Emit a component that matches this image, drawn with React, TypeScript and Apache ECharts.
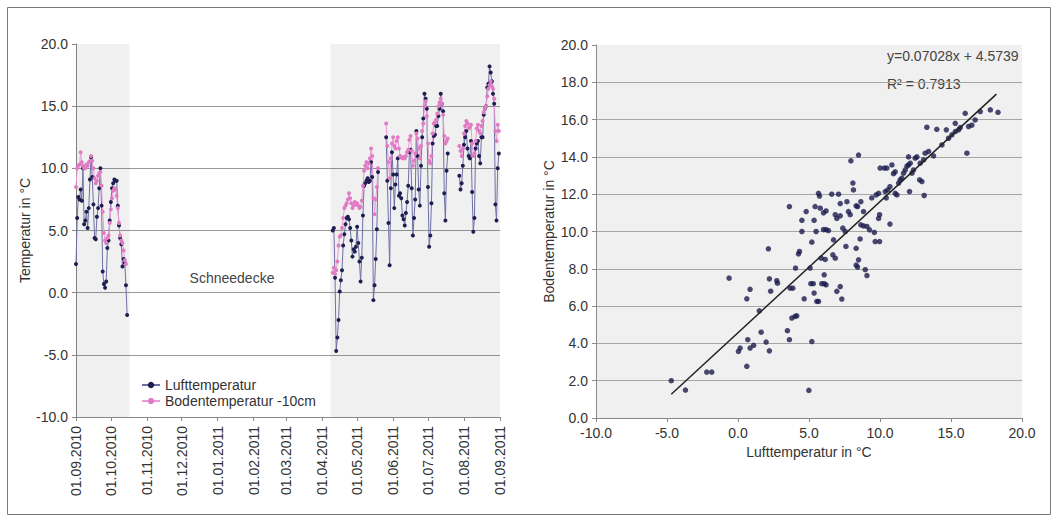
import React, { useEffect, useRef } from "react";
import * as echarts from "echarts";

// ---- time series (daily values) ----
const axisStart = [2010, 8, 1]; // 01.09.2010
const axisEnd = [2011, 8, 1]; // 01.09.2011
const autumnStart = "01.09.2010";
const luftAutumn = [2.3, 6.0, 7.7, 7.5, 8.3, 7.4, 10.0, 5.5, 5.8, 6.5, 5.2, 6.8, 9.1, 10.9, 9.3, 7.1, 4.4, 4.3, 6.1, 6.8, 8.4, 10.0, 7.0, 1.7, 0.7, 0.4, 0.9, 3.6, 4.2, 5.8, 7.3, 8.4, 8.8, 9.1, 9.0, 9.0, 7.0, 5.4, 4.4, 3.9, 2.1, 2.7, 2.4, 0.6, -1.8];
const bodenAutumn = [8.5, 10.0, 10.2, 10.3, 11.3, 10.5, 10.2, 10.0, 10.0, 10.3, 10.2, 10.5, 10.6, 11.0, 10.6, 10.0, 9.2, 8.8, 9.0, 9.4, 9.6, 9.7, 8.6, 6.5, 4.8, 4.2, 4.0, 4.4, 4.6, 5.6, 6.7, 7.6, 8.2, 8.4, 8.3, 7.8, 6.8, 5.6, 4.6, 4.2, 4.0, 3.4, 2.6, 2.3, null];

const springStart = "10.04.2011";
const N6 = [null, null, null, null, null, null];
const N9 = [null, null, null, null, null, null, null, null, null];
const luftSpring = [
  5.0, 5.2, 1.2, -4.7, -3.6, -2.2, 0.1, 1.0, 1.8, 3.8, 4.7, 5.5, 6.0, 6.1, 5.9, 5.2, 4.2, 2.9, 3.5, 3.3, 3.7, 5.3, 4.0, 2.5, 0.9, 2.8, 6.2, 8.6, 8.8, 9.0, 9.2, 8.9, 9.0, 10.5, 9.3, -0.6, 0.6, 2.7, 5.1, 9.7,
  ...N6,
  12.5, 9.0, 5.6, 2.2, 8.4, 11.3, 9.5, 6.8, 8.7, 9.5, 10.8, 7.8, 8.0, 7.6, 6.2, 5.9, 5.4, 6.4, 7.3, 8.6, 11.3, 11.5, 8.4, 4.6, 6.0, 7.5, 13.0, 11.0, 8.3, 7.0, 10.2, 12.5, 14.0, 16.0, 15.6, 14.8, 8.5, 3.7, 4.6, 7.2, 12.0, 12.6, 12.7, 13.4, 13.4, 14.2, 14.8, 16.0, 15.2, 14.6, 8.0, 5.8, 9.8, 11.2,
  ...N9,
  9.4, 8.3, 8.8, 10.2, 11.9, 12.5, 13.0, 11.6, 11.0, 10.8, 12.2, 8.1, 4.9, 6.0, 11.6, 12.0, 12.2, 11.0, 10.4, 12.5, 12.5, 14.3, 14.8, 15.0, 16.5, 16.8, 18.2, 17.7, 17.0, 16.0, 15.2, 7.1, 5.8, 10.0, 11.2,
];
const bodenSpring = [
  1.6, 2.0, 1.5, 1.8, 2.5, 3.8, 4.5, 4.6, 5.2, 6.0, 6.8, 7.0, 7.2, 7.5, 8.0, 7.6, 7.2, 6.8, 7.0, 7.3, 7.1, 7.2, 7.0, 6.8, 6.9, 7.4, 8.6, 9.8, 10.2, 10.5, 10.0, 10.4, 10.8, 11.6, 11.0, 7.6, 6.3, 7.5, 8.5, 10.0,
  ...N6,
  13.6, 11.8, 10.5, 9.2, 10.8, 12.0, 12.5, 11.8, 11.6, 12.2, 12.5, 11.6, 11.0, 10.9, 10.8, 10.9, 10.8, 11.0, 11.3, 11.5, 12.3, 12.6, 11.4, 10.2, 10.6, 11.2, 12.8, 12.4, 11.6, 10.8, 11.8, 13.0, 13.6, 15.0, 15.4, 14.2, 12.0, 10.6, 10.4, 11.0, 12.8, 13.6, 13.7, 13.9, 14.4, 15.0, 15.3, 15.6, 15.2, 14.3, 12.6, 12.0, 12.2, 12.4,
  ...N9,
  11.8, 11.4, 11.0, 11.6, 12.8, 13.4, 13.8, 13.6, 13.2, 13.3, 13.5, 12.0, 11.0, 11.2, 12.2, 13.2, 13.5, 13.0, 12.8, 13.4, 13.8, 14.5, 14.8, 15.0, 15.8, 16.4, 16.7, 17.0, 16.6, 16.4, 15.6, 13.0, 12.2, 13.5, 13.0,
];
const bands = [
  ["01.09.2010", "17.10.2010"],
  ["08.04.2011", "01.09.2011"],
];

// ---- scatter: Lufttemperatur vs Bodentemperatur ----
const scatterLuft = [-4.7, -3.7, -2.2, -1.85, -0.63, 0.03, 0.15, 0.62, 0.62, 0.69, 0.85, 0.85, 1.1, 1.5, 1.63, 1.98, 2.14, 2.21, 2.21, 2.3, 2.73, 2.78, 3.62, 3.48, 3.62, 3.67, 3.86, 3.79, 4.02, 4.14, 4.05, 4.26, 4.33, 4.5, 4.5, 4.66, 4.8, 4.99, 5.08, 5.13, 5.2, 5.2, 5.3, 5.36, 5.43, 5.36, 5.55, 5.67, 5.5, 5.67, 5.74, 5.79, 5.86, 5.9, 6.07, 6.2, 6.02, 6.2, 6.37, 6.02, 6.2, 6.07, 6.14, 6.68, 6.85, 6.73, 6.6, 7.08, 6.85, 6.96, 7.2, 6.96, 7.2, 7.31, 7.2, 7.38, 7.55, 7.6, 7.78, 7.9, 7.67, 7.95, 8.09, 8.13, 8.32, 8.42, 8.32, 8.32, 8.42, 8.49, 8.49, 8.6, 8.65, 8.65, 8.84, 8.84, 8.96, 9.08, 9.08, 9.26, 9.6, 9.66, 9.97, 9.42, 9.9, 9.97, 9.73, 9.9, 10.01, 10.3, 10.48, 10.37, 10.55, 10.7, 10.44, 10.7, 10.84, 10.95, 11.07, 11.07, 11.19, 11.31, 11.42, 11.54, 11.66, 11.78, 11.9, 12.01, 12.13, 12.01, 12.08, 12.25, 12.36, 12.48, 12.6, 12.79, 12.95, 12.83, 13.07, 13.11, 13.18, 13.42, 13.3, 13.77, 14.0, 14.36, 14.67, 14.83, 15.06, 15.3, 15.3, 15.53, 15.65, 16.0, 16.12, 16.24, 16.47, 16.7, 17.06, 17.77, 18.31];
const scatterBoden = [2.0, 1.5, 2.46, 2.46, 7.5, 3.57, 3.75, 6.39, 2.77, 4.2, 6.9, 3.75, 3.9, 5.75, 4.6, 4.07, 9.07, 7.46, 3.6, 6.8, 7.36, 7.23, 11.34, 4.68, 4.2, 6.96, 6.96, 5.36, 5.45, 5.48, 8.04, 8.8, 8.93, 10.6, 10.0, 6.39, 11.07, 1.48, 8.04, 7.2, 9.43, 4.1, 7.2, 10.6, 11.34, 6.7, 6.25, 6.25, 10.0, 12.05, 11.9, 11.25, 8.57, 7.2, 7.2, 7.14, 10.1, 10.1, 10.05, 11.0, 11.1, 7.68, 8.5, 8.75, 8.57, 9.55, 12.0, 12.0, 10.9, 10.7, 10.84, 6.79, 7.05, 6.38, 11.5, 10.18, 10.0, 9.2, 11.07, 10.9, 11.6, 13.79, 12.6, 12.23, 11.38, 11.34, 9.1, 8.2, 8.09, 14.1, 8.48, 9.6, 11.6, 10.36, 10.3, 11.07, 7.95, 7.64, 10.27, 10.09, 9.95, 9.46, 9.46, 11.8, 10.7, 10.9, 11.96, 12.05, 13.4, 13.4, 13.4, 12.14, 12.23, 12.4, 11.8, 10.4, 13.57, 13.1, 13.2, 12.05, 11.96, 12.6, 12.77, 12.86, 13.13, 13.3, 13.5, 13.57, 13.66, 14.0, 12.14, 13.13, 13.3, 13.93, 14.0, 12.77, 12.68, 13.66, 13.84, 11.93, 14.2, 14.29, 15.59, 14.05, 15.48, 14.64, 15.45, 15.0, 15.18, 15.36, 15.8, 15.45, 15.57, 16.34, 14.2, 15.63, 15.7, 15.98, 16.43, 16.52, 16.39];
const trendSlope = 0.7028;
const trendIntercept = 4.5739;
const trendRange = [-4.7, 18.2];
const equationText = "y=0.07028x + 4.5739";
const r2Text = "R² = 0.7913";

const pad = (n: number) => (n < 10 ? "0" + n : "" + n);
function buildDates(): string[] {
  const out: string[] = [];
  const d = new Date(Date.UTC(axisStart[0], axisStart[1], axisStart[2]));
  const end = new Date(Date.UTC(axisEnd[0], axisEnd[1], axisEnd[2]));
  while (d.getTime() <= end.getTime()) {
    out.push(pad(d.getUTCDate()) + "." + pad(d.getUTCMonth() + 1) + "." + d.getUTCFullYear());
    d.setUTCDate(d.getUTCDate() + 1);
  }
  return out;
}

export default function App() {
  const ref = useRef<HTMLDivElement>(null);
  useEffect(() => {
    document.body.style.margin = "0";
    if (!ref.current) return;
    const chart = echarts.init(ref.current, undefined, { renderer: "svg" });
    const dates = buildDates();
    const place = (startLabel: string, vals: (number | null)[]) => {
      const full: (number | null)[] = dates.map(() => null);
      const s = dates.indexOf(startLabel);
      vals.forEach((v, i) => {
        full[s + i] = v;
      });
      return full;
    };
    const la = place(autumnStart, luftAutumn);
    const ls = place(springStart, luftSpring);
    const ba = place(autumnStart, bodenAutumn);
    const bs = place(springStart, bodenSpring);
    const luft = la.map((v, i) => (v !== null ? v : ls[i]));
    const boden = ba.map((v, i) => (v !== null ? v : bs[i]));
    const isMonthStart = (_: number, v: string) => v.startsWith("01.");
    const font = "Liberation Sans, Arial, sans-serif";
    const fs = 14;
    const txt = "#333";
    const gridColors = ["#999", "#999", "#999", "#999", "#999", "#999", "rgba(0,0,0,0)"];
    const gridColors2 = Array(10).fill("#a6a6a6").concat(["rgba(0,0,0,0)"]);

    chart.setOption({
      animation: false,
      textStyle: { fontFamily: font },
      grid: [
        { left: 76, right: 558, top: 44, bottom: 106 },
        { left: 596, right: 36, top: 45, bottom: 105, show: true, backgroundColor: "#f0f0f0", borderWidth: 0 },
      ],
      legend: {
        data: ["Lufttemperatur", "Bodentemperatur -10cm"],
        orient: "vertical",
        left: 136,
        top: 373,
        itemGap: 2,
        itemWidth: 18,
        itemHeight: 8,
        textStyle: { fontSize: fs, color: txt, fontFamily: font },
      },
      xAxis: [
        {
          type: "category",
          gridIndex: 0,
          data: dates,
          boundaryGap: false,
          axisLine: { onZero: false, lineStyle: { color: "#888" } },
          axisTick: { interval: isMonthStart, lineStyle: { color: "#888" }, length: 4 },
          axisLabel: { interval: isMonthStart, rotate: 90, fontSize: fs, color: txt, margin: 9 },
          splitLine: { show: false },
        },
        {
          type: "value",
          gridIndex: 1,
          min: -10,
          max: 20,
          interval: 5,
          axisLine: { onZero: false, lineStyle: { color: "#888" } },
          axisTick: { show: true, lineStyle: { color: "#888" }, length: 4 },
          axisLabel: { fontSize: fs, color: txt, formatter: (v: number) => v.toFixed(1), margin: 8 },
          splitLine: { show: false },
          name: "Lufttemperatur in °C",
          nameLocation: "middle",
          nameGap: 23,
          nameTextStyle: { fontSize: fs, color: txt },
        },
      ],
      yAxis: [
        {
          type: "value",
          gridIndex: 0,
          min: -10,
          max: 20,
          interval: 5,
          axisLine: { show: true, onZero: false, lineStyle: { color: "#888" } },
          axisTick: { show: true, lineStyle: { color: "#888" }, length: 4 },
          axisLabel: { fontSize: fs, color: txt, formatter: (v: number) => v.toFixed(1), margin: 8 },
          splitLine: { show: true, lineStyle: { color: gridColors, width: 1.2 } },
          name: "Temperatur in °C",
          nameLocation: "middle",
          nameGap: 40,
          nameTextStyle: { fontSize: fs, color: txt },
        },
        {
          type: "value",
          gridIndex: 1,
          min: 0,
          max: 20,
          interval: 2,
          axisLine: { show: true, onZero: false, lineStyle: { color: "#888" } },
          axisTick: { show: true, lineStyle: { color: "#888" }, length: 4 },
          axisLabel: { fontSize: fs, color: txt, formatter: (v: number) => v.toFixed(1), margin: 8 },
          splitLine: { show: true, lineStyle: { color: gridColors2, width: 1.2 } },
          name: "Bodentemperatur in °C",
          nameLocation: "middle",
          nameGap: 40,
          nameTextStyle: { fontSize: fs, color: txt },
        },
      ],
      series: [
        {
          name: "Lufttemperatur",
          type: "line",
          xAxisIndex: 0,
          yAxisIndex: 0,
          data: luft,
          connectNulls: false,
          showAllSymbol: true,
          symbol: "circle",
          symbolSize: 4,
          color: "#1e1e52",
          lineStyle: { color: "#6f6fa6", width: 1 },
          itemStyle: { color: "#1e1e52" },
          markArea: {
            silent: true,
            itemStyle: { color: "rgba(0,0,0,0.06)" },
            data: bands.map((b) => [{ xAxis: b[0] }, { xAxis: b[1] }]),
          },
        },
        {
          name: "Bodentemperatur -10cm",
          type: "line",
          xAxisIndex: 0,
          yAxisIndex: 0,
          data: boden,
          connectNulls: false,
          showAllSymbol: true,
          symbol: "circle",
          symbolSize: 4,
          color: "#e07cc4",
          lineStyle: { color: "#ea9ad6", width: 1 },
          itemStyle: { color: "#e07cc4" },
        },
        {
          type: "scatter",
          xAxisIndex: 1,
          yAxisIndex: 1,
          data: scatterLuft.map((x, i) => [x, scatterBoden[i]]),
          symbolSize: 5.5,
          itemStyle: { color: "#1b1b4d" },
        },
        {
          type: "line",
          xAxisIndex: 1,
          yAxisIndex: 1,
          data: trendRange.map((x) => [x, trendSlope * x + trendIntercept]),
          symbol: "none",
          lineStyle: { color: "#222", width: 1.5 },
        },
      ],
      graphic: [
        {
          type: "rect",
          shape: { x: 7.5, y: 7.5, width: 1043, height: 507 },
          style: { fill: "none", stroke: "#7a7a7a", lineWidth: 1 },
          silent: true,
        },
        {
          type: "text",
          x: 232,
          y: 278,
          style: { text: "Schneedecke", fontSize: fs, fill: "#444", fontFamily: font, align: "center", verticalAlign: "middle" },
        },
        {
          type: "text",
          x: 887,
          y: 56,
          style: { text: equationText, fontSize: fs, fill: "#444", fontFamily: font, align: "left", verticalAlign: "middle" },
        },
        {
          type: "text",
          x: 882,
          y: 84,
          style: { text: r2Text, fontSize: fs, fill: "#444", fontFamily: font, align: "left", verticalAlign: "middle", backgroundColor: "#f0f0f0", padding: [2, 5] },
        },
      ],
    });
    return () => chart.dispose();
  }, []);
  return <div ref={ref} style={{ width: 1058, height: 523 }} />;
}
